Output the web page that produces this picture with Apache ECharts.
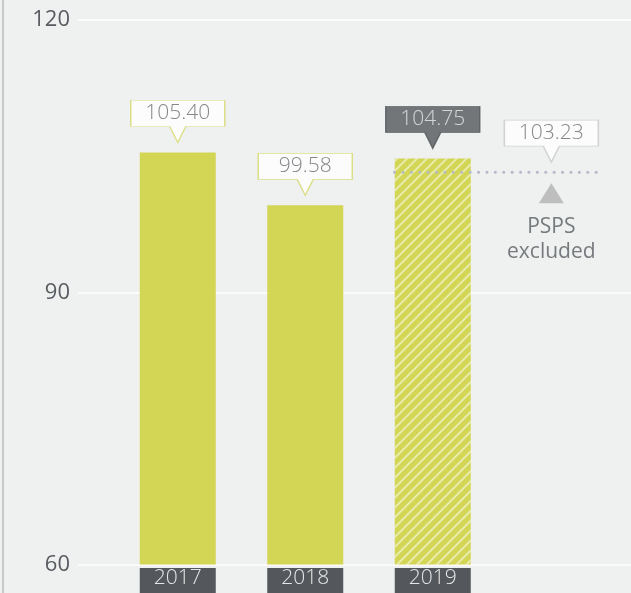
<!DOCTYPE html>
<html>
<head>
<meta charset="utf-8">
<script src="https://cdn.jsdelivr.net/npm/echarts@6/dist/echarts.min.js"></script>
<style>
  html, body { margin: 0; padding: 0; background: #eff0f0; }
  #chart { width: 631px; height: 593px; }
</style>
</head>
<body>
<div id="chart"></div>
<script>
// Yearly values
const years = ['2017', '2018', '2019'];
const values = [105.40, 99.58, 104.75];
// 2019 value with PSPS events excluded
const pspsExcluded = 103.23;
const pspsNote = 'PSPS\nexcluded';
// Value axis ticks
const yMin = 60;
const yMax = 120;
const yStep = 30;

// Layout helpers: positions on the hidden overlay axis (one unit per category band)
const refLineSpan = [2.2, 3.81];
const refMarkAt = 3.43;
const hatchedIndex = 2;

const FONT = "'Open Sans', 'Noto Sans', sans-serif";
const LIGHT = 300;
const BAR = '#d3d655';
const DARK = '#54575b';
const TEXT = '#585c60';
const callout = 'path://M0,0H94V26H55L47,42L39,26H0Z';

const chart = echarts.init(document.getElementById('chart'), null, { renderer: 'canvas' });

const barData = values.map((v, i) => i === hatchedIndex ? {
  value: v,
  itemStyle: {
    color: BAR,
    decal: {
      symbol: 'rect',
      symbolSize: 1,
      color: 'rgba(255,255,255,0.5)',
      dashArrayX: [1, 0],
      dashArrayY: [2, 4.5],
      rotation: -Math.PI / 4
    }
  }
} : { value: v });

const labelData = values.map((v, i) => {
  const dark = i === hatchedIndex;
  return {
    value: [years[i], v],
    itemStyle: dark
      ? { color: DARK, borderColor: DARK, borderWidth: 1 }
      : { color: '#ffffff', borderColor: '#d6d86a', borderWidth: 1 },
    label: { color: dark ? '#ececec' : '#66696d' }
  };
});

chart.setOption({
  backgroundColor: '#eff0f0',
  animation: false,
  textStyle: { fontFamily: FONT },
  graphic: [{
    type: 'rect',
    shape: { x: 2, y: 0, width: 2, height: 593 },
    style: { fill: '#c7c8c8' },
    silent: true
  }],
  grid: [
    { left: 114, right: 7, top: 20, bottom: 28 },
    { left: 78, right: 0, top: 20, bottom: 28 }
  ],
  xAxis: [
    {
      type: 'category',
      gridIndex: 0,
      data: years.concat(['']),
      axisLine: { show: false },
      axisTick: { show: false },
      axisLabel: {
        margin: 2,
        formatter: v => v ? '{y|' + v + '}' : '',
        rich: {
          y: {
            backgroundColor: DARK,
            color: '#e6e6e6',
            fontFamily: FONT,
            fontWeight: LIGHT,
            fontSize: 21,
            width: 76,
            align: 'center',
            lineHeight: 28,
            padding: [0, 0, 4, 0]
          }
        }
      }
    },
    {
      type: 'value',
      gridIndex: 0,
      min: 0,
      max: 4,
      show: false
    },
    {
      type: 'value',
      gridIndex: 1,
      show: false
    }
  ],
  yAxis: [
    {
      type: 'value',
      gridIndex: 0,
      min: yMin, max: yMax, interval: yStep,
      show: false
    },
    {
      type: 'value',
      gridIndex: 1,
      min: yMin, max: yMax, interval: yStep,
      axisLine: { show: false },
      axisTick: { show: false },
      axisLabel: { margin: 8, fontSize: 22, color: TEXT, fontFamily: FONT },
      splitLine: { lineStyle: { color: '#ffffff', width: 1.5 } }
    }
  ],
  series: [
    {
      type: 'bar',
      xAxisIndex: 0, yAxisIndex: 0,
      barWidth: 76,
      itemStyle: { color: BAR },
      data: barData,
      z: 2
    },
    {
      // value callouts above each bar
      type: 'scatter',
      xAxisIndex: 0, yAxisIndex: 0,
      symbol: callout,
      symbolSize: [94, 42],
      symbolOffset: [0, -31],
      label: {
        show: true,
        position: 'inside',
        offset: [0, -8],
        fontSize: 21,
        fontFamily: FONT,
        fontWeight: LIGHT,
        formatter: p => p.value[1].toFixed(2)
      },
      data: labelData,
      z: 5
    },
    {
      // dotted reference line for the PSPS-excluded value
      type: 'line',
      xAxisIndex: 1, yAxisIndex: 0,
      symbol: 'none',
      lineStyle: { color: '#b6bac6', width: 3, type: [0.1, 8.3], cap: 'round' },
      data: [[refLineSpan[0], pspsExcluded], [refLineSpan[1], pspsExcluded]],
      z: 4
    },
    {
      type: 'scatter',
      xAxisIndex: 1, yAxisIndex: 0,
      symbol: callout,
      symbolSize: [94, 42],
      symbolOffset: [0, -31],
      itemStyle: { color: '#ffffff', borderColor: '#c8c8c8', borderWidth: 1 },
      label: {
        show: true,
        position: 'inside',
        offset: [0, -8],
        fontSize: 21,
        fontFamily: FONT,
        fontWeight: LIGHT,
        color: '#66696d',
        formatter: p => p.value[1].toFixed(2)
      },
      data: [[refMarkAt, pspsExcluded]],
      z: 5
    },
    {
      type: 'scatter',
      xAxisIndex: 1, yAxisIndex: 0,
      symbol: 'triangle',
      symbolSize: [25, 20],
      symbolOffset: [0, 21],
      itemStyle: { color: '#b1b1b1' },
      label: {
        show: true,
        position: 'bottom',
        distance: 11,
        fontSize: 21,
        lineHeight: 25,
        fontFamily: FONT,
        color: TEXT,
        align: 'center',
        formatter: () => pspsNote
      },
      data: [[refMarkAt, pspsExcluded]],
      z: 5
    }
  ]
});
</script>
</body>
</html>
